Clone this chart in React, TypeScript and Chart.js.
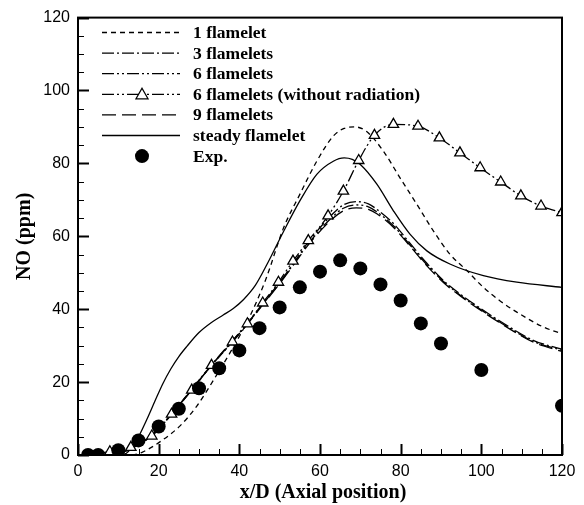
import React, { useEffect, useRef } from "react";
import { Chart, registerables } from "chart.js";

Chart.register(...registerables);

const xTicks = [0, 20, 40, 60, 80, 100, 120];
const yTicks = [0, 20, 40, 60, 80, 100, 120];

const legendLabels = [
  "1 flamelet",
  "3 flamelets",
  "6 flamelets",
  "6 flamelets (without radiation)",
  "9 flamelets",
  "steady flamelet",
  "Exp.",
];

const oneX = [0, 12, 14, 16, 20.3, 25.3, 29.5, 34.4, 38.5, 42.5, 46.5, 51, 55, 59.2, 63.3, 66, 68.7, 71.5, 75.7, 79.8, 84, 88.1, 92.2, 96.4, 100.5, 104.5, 108.8, 115.4, 120];
const oneY = [0, 0, 0.1, 0.8, 3.6, 8, 13.5, 22, 29.6, 37.8, 48, 62.4, 71.5, 80.6, 87.5, 89.6, 90, 88.8, 83.4, 76.1, 68.8, 61.5, 55.1, 50.6, 46, 42.4, 39.2, 35.1, 33.3];

const threeX = [0, 8, 10, 13, 16, 18.3, 20, 23, 28, 33, 38, 42, 46, 50, 53.4, 57.5, 62.5, 65.8, 69, 72, 74.1, 78.2, 82.3, 86.5, 90.6, 94.7, 100.5, 107, 113, 120];
const threeY = [0, 0, 0.4, 1.6, 3.6, 5.4, 7.4, 11, 17.8, 24.6, 31, 36.2, 41.8, 47.4, 52.6, 59, 65.4, 68.6, 69.5, 68.9, 67.4, 63.5, 58.1, 52.6, 47.9, 44.2, 39.7, 35.1, 31.4, 29];

const sixX = [0, 8, 10, 13, 16, 18.3, 20, 23, 28, 33, 38, 42, 46, 50, 53.4, 57.5, 62.5, 65.8, 69, 72, 74.1, 78.2, 82.3, 86.5, 90.6, 94.7, 100.5, 107, 113, 120];
const sixY = [0, 0, 0.4, 1.6, 3.6, 5.3, 7.3, 10.9, 17.7, 24.5, 30.9, 36, 41.6, 47.2, 52.3, 58.5, 64.7, 67.7, 68.6, 68.1, 66.7, 62.9, 57.6, 52.2, 47.6, 43.9, 39.4, 34.8, 31.1, 28.7];

const nineX = [0, 8, 10, 13, 16, 18.3, 20, 23, 28, 33, 38, 42, 46, 50, 53.4, 57.5, 62.5, 65.8, 69, 72, 74.1, 78.2, 82.3, 86.5, 90.6, 94.7, 100.5, 107, 113, 120];
const nineY = [0, 0, 0.4, 1.6, 3.6, 5.3, 7.2, 10.8, 17.6, 24.4, 30.8, 35.9, 41.5, 47, 52.1, 58.2, 64.2, 67, 67.8, 67.4, 66.2, 62.5, 57.3, 51.9, 47.3, 43.7, 39.2, 34.6, 30.9, 28.4];

const noRadX = [0, 7.9, 13.1, 18.3, 23.2, 28.2, 33.1, 38.3, 42, 45.8, 49.7, 53.3, 57.1, 62, 65.8, 69.6, 73.5, 78.2, 84.3, 89.6, 94.7, 99.7, 104.8, 109.8, 114.8, 120];
const noRadY = [0, 0.9, 2.1, 5.2, 11.2, 17.8, 24.6, 31, 36, 41.7, 47.4, 53.2, 58.8, 65.6, 72.4, 80.8, 87.7, 90.7, 90.2, 87, 82.9, 78.8, 74.9, 71.1, 68.3, 66.5];
const triangleX = [7.9, 13.1, 18.3, 23.2, 28.2, 33.1, 38.3, 42, 45.8, 49.7, 53.3, 57.1, 62, 65.8, 69.6, 73.5, 78.2, 84.3, 89.6, 94.7, 99.7, 104.8, 109.8, 114.8, 120];
const triangleY = [0.9, 2.1, 5.2, 11.2, 17.8, 24.6, 31, 36, 41.7, 47.4, 53.2, 58.8, 65.6, 72.4, 80.8, 87.7, 90.7, 90.2, 87, 82.9, 78.8, 74.9, 71.1, 68.3, 66.5];

const steadyX = [0, 10, 12, 14.6, 17, 19, 21, 23, 25, 27, 30, 33, 36, 38.5, 41, 44, 47, 50.9, 55, 59.2, 63.3, 66, 68, 70, 74.1, 78.2, 82.3, 86.5, 92.2, 100.5, 108.8, 120];
const steadyY = [0, 0, 0.5, 4.2, 9.6, 14.6, 19.5, 23.6, 27, 29.8, 33.6, 36.3, 38.4, 40.2, 42.6, 46.6, 52.6, 61.2, 69.7, 77, 80.6, 81.5, 81.1, 79.7, 74.3, 67, 60.6, 56, 52.4, 49.2, 47.4, 46];

const expX = [2.5, 5, 10, 15, 20, 25, 30, 35, 40, 45, 50, 55, 60, 65, 70, 75, 80, 85, 90, 100, 120];
const expY = [0, 0, 1.3, 4, 7.8, 12.7, 18.3, 23.8, 28.7, 34.8, 40.5, 46, 50.3, 53.4, 51.2, 46.8, 42.4, 36.1, 30.6, 23.3, 13.5];

const dash1 = [5, 4];
const dash3 = [12, 3, 2, 3];
const dash6 = [12, 3, 2, 3, 2, 3];
const dash9 = [14, 6];

function pts(xs: number[], ys: number[]) {
  return xs.map((x, i) => ({ x, y: ys[i] }));
}

const lineDs = (label: string, xs: number[], ys: number[], dash: number[], order: number) => ({
  label,
  data: pts(xs, ys),
  showLine: true,
  borderColor: "#000",
  backgroundColor: "#000",
  borderWidth: 1.3,
  borderDash: dash,
  pointRadius: 0,
  cubicInterpolationMode: "monotone" as const,
  order,
});

const tickPlugin = {
  id: "frameTicks",
  afterDraw(chart: any) {
    const ctx = chart.ctx;
    const { left, right, top, bottom } = chart.chartArea;
    const xs = chart.scales.x;
    const ys = chart.scales.y;
    ctx.save();
    ctx.strokeStyle = "#000";
    ctx.setLineDash([]);
    for (let v = 0; v <= 120; v += 5) {
      const major = v % 20 === 0;
      const len = major ? 11 : 6;
      ctx.lineWidth = major ? 2 : 1;
      const px = Math.round(xs.getPixelForValue(v)) + 0.5;
      ctx.beginPath();
      ctx.moveTo(px, bottom);
      ctx.lineTo(px, bottom - len);
      ctx.stroke();
      const py = Math.round(ys.getPixelForValue(v)) + 0.5;
      ctx.beginPath();
      ctx.moveTo(left, py);
      ctx.lineTo(left + len, py);
      ctx.stroke();
    }
    ctx.lineWidth = 2;
    ctx.strokeRect(left, top, right - left, bottom - top);

    ctx.fillStyle = "#000";
    ctx.font = "bold 20px 'Liberation Serif'";
    ctx.textAlign = "center";
    ctx.textBaseline = "middle";
    ctx.fillText("x/D (Axial position)", (left + right) / 2 + 3, 493);
    ctx.save();
    ctx.translate(25, (top + bottom) / 2);
    ctx.rotate(-Math.PI / 2);
    ctx.fillText("NO (ppm)", 0, 0);
    ctx.restore();

    const dashes = [dash1, dash3, dash6, dash6, dash9, [], null];
    const x0 = 102;
    const x1 = 180;
    const xm = (x0 + x1) / 2 + 1;
    ctx.font = "bold 17.5px 'Liberation Serif'";
    ctx.textAlign = "left";
    legendLabels.forEach((lab, i) => {
      const y = 32.5 + i * 20.6;
      const d = dashes[i];
      if (d) {
        ctx.lineWidth = 1.3;
        ctx.setLineDash(d);
        ctx.beginPath();
        ctx.moveTo(x0, y);
        ctx.lineTo(x1, y);
        ctx.stroke();
        ctx.setLineDash([]);
      }
      if (i === 3) {
        ctx.fillStyle = "#fff";
        ctx.lineWidth = 1.3;
        ctx.beginPath();
        ctx.moveTo(xm, y - 6);
        ctx.lineTo(xm + 6, y + 4.5);
        ctx.lineTo(xm - 6, y + 4.5);
        ctx.closePath();
        ctx.fill();
        ctx.stroke();
      }
      if (i === 6) {
        ctx.fillStyle = "#000";
        ctx.beginPath();
        ctx.arc(xm, y, 7, 0, Math.PI * 2);
        ctx.fill();
      }
      ctx.fillStyle = "#000";
      ctx.fillText(lab, 193, y + 1);
    });
    ctx.restore();
  },
};

export default function App() {
  const ref = useRef<HTMLCanvasElement | null>(null);
  useEffect(() => {
    if (!ref.current) return;
    const chart = new Chart(ref.current, {
      type: "scatter",
      data: {
        datasets: [
          {
            label: "Exp.",
            data: pts(expX, expY),
            showLine: false,
            pointRadius: 7,
            pointHoverRadius: 7,
            pointBackgroundColor: "#000",
            pointBorderColor: "#000",
            pointBorderWidth: 0,
            order: 0,
          } as any,
          {
            label: "6 flamelets (without radiation) markers",
            data: pts(triangleX, triangleY),
            showLine: false,
            pointStyle: "triangle",
            pointRadius: 6,
            pointBackgroundColor: "#fff",
            pointBorderColor: "#000",
            pointBorderWidth: 1.3,
            order: 1,
          } as any,
          lineDs("1 flamelet", oneX, oneY, dash1, 2),
          lineDs("3 flamelets", threeX, threeY, dash3, 3),
          lineDs("6 flamelets", sixX, sixY, dash6, 4),
          lineDs("6 flamelets (without radiation)", noRadX, noRadY, dash6, 5),
          lineDs("9 flamelets", nineX, nineY, dash9, 6),
          lineDs("steady flamelet", steadyX, steadyY, [], 7),
        ],
      },
      options: {
        animation: false,
        responsive: false,
        events: [],
        layout: { padding: { top: 16, right: 22, left: 0, bottom: 0 } },
        plugins: { legend: { display: false }, tooltip: { enabled: false } },
        scales: {
          x: {
            type: "linear",
            min: 0,
            max: 120,
            afterBuildTicks: (s: any) => {
              s.ticks = xTicks.map((v) => ({ value: v }));
            },
            afterFit: (s: any) => {
              s.height = 50;
            },
            ticks: {
              maxRotation: 0,
              autoSkip: false,
              padding: 7,
              color: "#000",
              font: { family: "'Liberation Sans'", size: 16 },
            },
            grid: { display: false, drawTicks: false },
            border: { display: false },
          },
          y: {
            type: "linear",
            min: 0,
            max: 120,
            afterBuildTicks: (s: any) => {
              s.ticks = yTicks.map((v) => ({ value: v }));
            },
            afterFit: (s: any) => {
              s.width = 78;
            },
            ticks: {
              autoSkip: false,
              padding: 8,
              color: "#000",
              font: { family: "'Liberation Sans'", size: 16 },
            },
            grid: { display: false, drawTicks: false },
            border: { display: false },
          },
        },
      } as any,
      plugins: [tickPlugin],
    });
    return () => chart.destroy();
  }, []);
  return (
    <div style={{ position: "fixed", left: 0, top: 0, width: 584, height: 505, background: "#fff" }}>
      <canvas ref={ref} width={584} height={505} />
    </div>
  );
}
